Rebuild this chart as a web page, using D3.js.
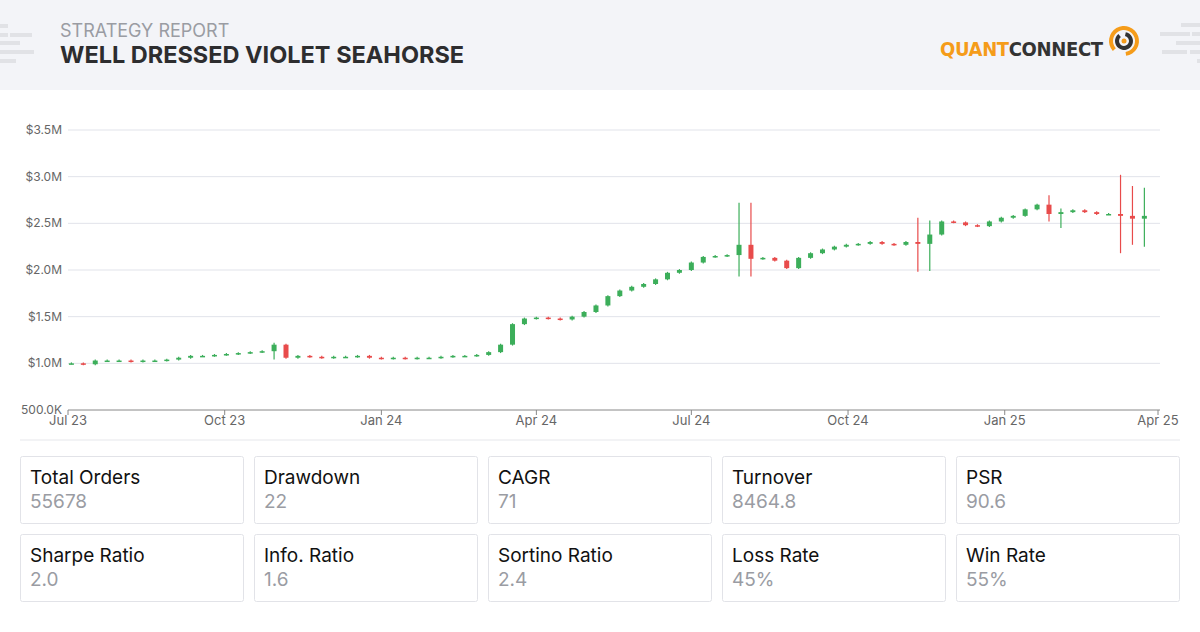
<!DOCTYPE html>
<html><head><meta charset="utf-8">
<script src="https://cdn.jsdelivr.net/npm/d3@7"></script>
<style>
body{margin:0;width:1200px;height:632px;background:#fff;font-family:Inter,"Noto Sans",sans-serif;overflow:hidden}
</style></head><body>
<svg id="c" width="1200" height="632"></svg>
<script>
const startDate = "2023-07-03";
const stepDays = 7;
const closes = [1.00,0.99,1.03,1.03, 1.03,1.02,1.03,1.03, 1.04,1.06,1.08,1.08, 1.09,1.10,1.11,1.12,1.13,
 1.20,1.06,1.08,1.07, 1.06,1.07,1.07,1.08, 1.06,1.05,1.06,1.05,1.06, 1.06,1.07,1.08,1.08,
 1.09,1.12,1.20,1.42, 1.48,1.49,1.48,1.47,1.50, 1.55,1.62,1.72,1.78, 1.82,1.85,1.90,1.97,
 2.00,2.08,2.14,2.15,2.16, 2.27,2.12,2.13,2.10, 2.02,2.13,2.18,2.22, 2.25,2.27,2.28,2.30,
 2.28,2.27,2.30,2.28, 2.38,2.52,2.51,2.48,2.47, 2.52,2.56,2.58,2.65, 2.70,2.60,2.62,2.64,
 2.62,2.60,2.60,2.58,2.55, 2.58];
const spikeIdx  = [17,   56,  57,  71,  72,  82,  83,  88,  89,  90,  91];
const spikeHigh = [1.22, 2.72,2.72,2.56,2.53,2.80,2.66,3.02,2.90,2.88,2.68];
const spikeLow  = [1.04, 1.93,1.93,1.98,1.99,2.52,2.45,2.18,2.27,2.25,2.45];
const yTicks = [0.5,1.0,1.5,2.0,2.5,3.0,3.5];
const xTickDates = ["2023-07-01","2023-10-01","2024-01-01","2024-04-01","2024-07-01","2024-10-01","2025-01-01","2025-04-01"];
const xTickLabels = ["Jul 23","Oct 23","Jan 24","Apr 24","Jul 24","Oct 24","Jan 25","Apr 25"];
const statNames = ["Total Orders","Drawdown","CAGR","Turnover","PSR","Sharpe Ratio","Info. Ratio","Sortino Ratio","Loss Rate","Win Rate"];
const statValues = ["55678","22","71","8464.8","90.6","2.0","1.6","2.4","45%","55%"];

const svg = d3.select("#c");
svg.append("rect").attr("width",1200).attr("height",90).attr("fill","#f3f4f8");
const dec = svg.append("g").attr("fill","#dcdde1");
[[0,24,8,4],[0,33,8,4],[10,33,22,4],[0,41,20,4],[0,50,8,4],[8,50,26,4],[0,59,16,4]].forEach(d=>dec.append("rect").attr("x",d[0]).attr("y",d[1]).attr("width",d[2]).attr("height",d[3]).attr("opacity",.8));
[[1181,23,19,4],[1160,32,30,4],[1192,32,8,4],[1176,41,24,4],[1162,50,25,4],[1190,50,10,4],[1197,59,3,4]].forEach(d=>dec.append("rect").attr("x",d[0]).attr("y",d[1]).attr("width",d[2]).attr("height",d[3]).attr("opacity",.8));
svg.append("text").attr("x",60).attr("y",37).attr("font-size",18).attr("fill","#9a9ca3").text("STRATEGY REPORT");
svg.append("text").attr("x",60).attr("y",63).attr("font-size",23.5).attr("font-weight",700).attr("fill","#2d2d2f").text("WELL DRESSED VIOLET SEAHORSE");
const lg = svg.append("text").attr("x",940).attr("y",56).attr("font-size",20).attr("font-weight",600)
  .attr("textLength",163).attr("lengthAdjust","spacing").attr("font-family","'Liberation Sans Narrow','DejaVu Sans Condensed',sans-serif");
lg.append("tspan").attr("fill","#f59c1a").text("QUANT");
lg.append("tspan").attr("fill","#333").text("CONNECT");
const ic = svg.append("g").attr("transform","translate(1124,41)");
ic.append("path").attr("d",d3.arc()({innerRadius:11,outerRadius:15,startAngle:-2.3,endAngle:3.0})).attr("fill","#f59c1a");
ic.append("path").attr("d",d3.arc()({innerRadius:5,outerRadius:9,startAngle:0.2,endAngle:5.6})).attr("fill","#333");
ic.append("circle").attr("r",2.5).attr("fill","#f59c1a");

const x = d3.scaleTime().domain([new Date(xTickDates[0]), new Date(xTickDates[7])]).range([68,1158]);
const y = d3.scaleLinear().domain([0.5,3.5]).range([410,130]);
const gy = svg.append("g");
yTicks.forEach((t,i)=>{
  if(i>0) gy.append("line").attr("x1",68).attr("x2",1160).attr("y1",y(t)).attr("y2",y(t)).attr("stroke","#e1e3ea");
  gy.append("text").attr("x",62).attr("y",y(t)+4).attr("text-anchor","end").attr("font-size",12).attr("fill","#666")
    .text(t<1?"500.0K":"$"+t.toFixed(1)+"M");
});
svg.append("line").attr("x1",68).attr("x2",1160).attr("y1",410).attr("y2",410).attr("stroke","#888");
xTickDates.forEach((d,i)=>{
  const xx=x(new Date(d));
  svg.append("line").attr("x1",xx).attr("x2",xx).attr("y1",410).attr("y2",415).attr("stroke","#888");
  svg.append("text").attr("x",xx).attr("y",425).attr("text-anchor","middle").attr("font-size",13).attr("fill","#666").text(xTickLabels[i]);
});
const t0 = new Date(startDate);
const candles = closes.map((c,i)=>{
  const o = i===0?1.00:closes[i-1];
  let h=Math.max(o,c)+0.01, l=Math.min(o,c)-0.01;
  const k=spikeIdx.indexOf(i); if(k>=0){h=spikeHigh[k];l=spikeLow[k];}
  return {d:d3.timeDay.offset(t0,i*stepDays),o,c,h,l};
});
const cg = svg.append("g");
candles.forEach(k=>{
  const col = k.c>=k.o?"#3cae5a":"#e84b4b";
  const cx = x(k.d);
  cg.append("line").attr("x1",cx).attr("x2",cx).attr("y1",y(k.h)).attr("y2",y(k.l)).attr("stroke",col).attr("stroke-width",1.2);
  const top=y(Math.max(k.o,k.c)), bot=y(Math.min(k.o,k.c));
  cg.append("rect").attr("x",cx-2.5).attr("width",5).attr("y",top).attr("height",Math.max(1.5,bot-top)).attr("fill",col);
});
svg.append("line").attr("x1",20).attr("x2",1180).attr("y1",440).attr("y2",440).attr("stroke","#e6e7eb");

statNames.forEach((n,i)=>{
  const col=i%5,row=Math.floor(i/5);
  const gx=20+col*234, gy2=456+row*78;
  svg.append("rect").attr("x",gx+.5).attr("y",gy2+.5).attr("width",223).attr("height",67).attr("rx",2).attr("fill","#fff").attr("stroke","#e2e3e8");
  svg.append("text").attr("x",gx+10).attr("y",gy2+28).attr("font-size",19).attr("fill","#111").text(n);
  svg.append("text").attr("x",gx+10).attr("y",gy2+52).attr("font-size",19).attr("fill","#9a9ca3").text(statValues[i]);
});
</script></body></html>
